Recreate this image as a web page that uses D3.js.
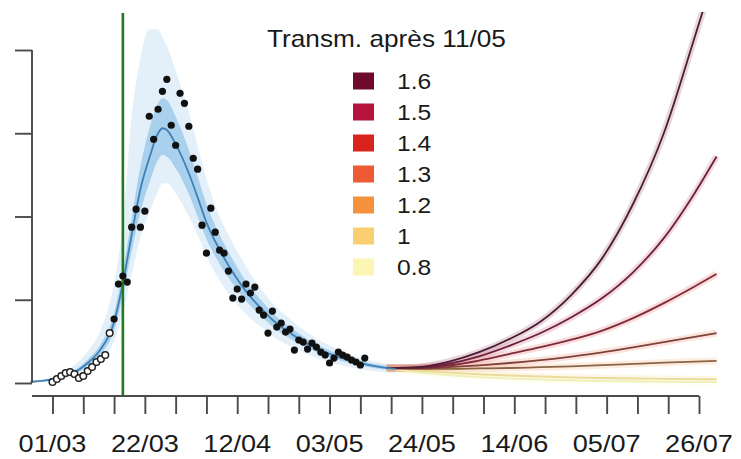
<!DOCTYPE html>
<html>
<head>
<meta charset="utf-8">
<script src="https://cdn.jsdelivr.net/npm/d3@7"></script>
<style>
  body { margin: 0; background: #fff; }
  svg { display: block; font-family: "Liberation Sans", Arial, sans-serif; }
</style>
</head>
<body>
<div id="chart"></div>
<script>
// all days are counted from 01/03/2020 (day 0)

// early points (open circles, not used for the fit)
var hollowStart = 0;
var hollowVals = [12, 48, 84, 120, 132, 108, 60, 84, 144, 192, 252, 288, 336, 600];

// daily admissions used for the fit (filled dots), 15/03 -> 11/05
var filledStart = 14;
var filledVals = [768, 1188, 1284, 1212, 1872, 2088, 1872, 2064, 3204, 2928, 3288, 3504,
  3648, 3096, 2856, 3480, 3360, 3084, 2700, 2568, 1896, 1560, 2100, 1812, 1596, 1560,
  1344, 1020, 1128, 1008, 1188, 1080, 1152, 876, 816, 600, 864, 672, 720, 612, 648,
  396, 516, 492, 408, 480, 432, 372, 336, 240, 300, 372, 336, 312, 276, 252, 216, 300];

// model fit + bands
var fitDays  = [-5, -2, 0, 3, 6, 8, 11, 14, 16, 18, 20, 22, 24, 25, 26, 28, 31, 33, 35, 38, 41, 44, 47, 50, 54, 58, 63, 68, 73, 78];
var fitMid   = [14, 28, 45, 90, 160, 240, 410, 730, 1200, 1780, 2330, 2700, 3000, 3060, 3040, 2870, 2520, 2230, 1930, 1600, 1330, 1100, 920, 760, 600, 470, 350, 265, 205, 170];
var fitInLo  = [10, 22, 38, 75, 135, 205, 350, 630, 1060, 1580, 2060, 2400, 2680, 2740, 2720, 2580, 2270, 2000, 1730, 1430, 1190, 985, 825, 680, 535, 420, 310, 235, 180, 150];
var fitInHi  = [18, 34, 54, 105, 190, 280, 470, 840, 1350, 1980, 2600, 3050, 3360, 3420, 3400, 3200, 2800, 2480, 2150, 1780, 1480, 1220, 1020, 845, 670, 525, 390, 297, 232, 192];
var fitOutLo = [6, 14, 26, 55, 100, 150, 270, 500, 850, 1300, 1750, 2050, 2300, 2400, 2400, 2280, 2000, 1780, 1530, 1230, 1010, 830, 690, 565, 440, 345, 250, 185, 140, 120];
var fitOutHi = [24, 46, 74, 145, 260, 380, 640, 1200, 1900, 3200, 3900, 4250, 4250, 4150, 4050, 3750, 3250, 2850, 2450, 2000, 1680, 1400, 1160, 960, 770, 605, 450, 340, 265, 215];

// projections by transmission rate after 11/05
var projDays = [76, 83, 90, 97, 104, 111, 118, 125, 132, 139, 146, 151];
var proj16 = [180, 190, 255, 370, 530, 740, 1060, 1500, 2150, 3000, 4150, 5000];
var proj15 = [180, 185, 230, 320, 450, 600, 790, 1020, 1330, 1740, 2280, 2720];
var proj14 = [180, 180, 210, 270, 350, 430, 520, 630, 780, 960, 1160, 1310];
var proj13 = [180, 175, 190, 212, 240, 275, 318, 368, 428, 490, 555, 600];
var proj12 = [180, 170, 170, 175, 180, 190, 200, 214, 229, 244, 257, 265];
var proj10 = [180, 150, 125, 105, 90, 78, 68, 60, 54, 50, 46, 45];
var proj08 = [180, 130, 95, 70, 52, 40, 30, 23, 18, 14, 11, 10];
var rLabels = ["1.6", "1.5", "1.4", "1.3", "1.2", "1", "0.8"];

var xLabels = ["01/03", "22/03", "12/04", "03/05", "24/05", "14/06", "05/07", "26/07"];
var yTicks = [0, 1000, 2000, 3000, 4000];
var lockdownDay = 16;

// styles
var legendCols = ["#6e0b2c", "#b5123c", "#d9241e", "#ee5a33", "#f5923e", "#f9cf72", "#fbf6b4"];
var lineCols   = ["#4c1d36", "#6c2040", "#7d2a3a", "#7e4238", "#8c6446", "#eadb98", "#eef0b8"];

var W = 741, H = 459;
var day0 = Date.UTC(2020, 2, 1);
var toDate = function(d) { return d3.utcDay.offset(new Date(day0), d); };

var x = d3.scaleUtc()
  .domain([toDate(0), toDate(147)])
  .range([52.5, 699]);
var y = d3.scaleLinear()
  .domain([0, 4000])
  .range([383, 50]);

var svg = d3.select("#chart").append("svg")
  .attr("width", W)
  .attr("height", H);

svg.append("clipPath").attr("id", "plotclip")
  .append("rect").attr("x", 30).attr("y", 12).attr("width", 700).attr("height", 385);

var plot = svg.append("g").attr("clip-path", "url(#plotclip)");

var fit = fitDays.map(function(d, i) {
  return { d: d, mid: fitMid[i], inLo: fitInLo[i], inHi: fitInHi[i], outLo: fitOutLo[i], outHi: fitOutHi[i] };
});

var band = function(lo, hi) {
  return d3.area()
    .curve(d3.curveMonotoneX)
    .x(function(p) { return x(toDate(p.d)); })
    .y0(function(p) { return y(p[lo]); })
    .y1(function(p) { return y(p[hi]); });
};

plot.append("path").datum(fit)
  .attr("d", band("outLo", "outHi"))
  .style("fill", "#e3eff9");
plot.append("path").datum(fit)
  .attr("d", band("inLo", "inHi"))
  .style("fill", "#a9d0ec");

// projections
var projs = [proj16, proj15, proj14, proj13, proj12, proj10, proj08];
var projLine = d3.line()
  .curve(d3.curveMonotoneX)
  .x(function(p) { return x(toDate(p[0])); })
  .y(function(p) { return y(p[1]); });

projs.forEach(function(vals, k) {
  var pts = projDays.map(function(d, i) { return [d, vals[i]]; });
  plot.append("path").datum(pts)
    .attr("d", projLine)
    .style("fill", "none")
    .style("stroke", legendCols[k])
    .style("stroke-opacity", 0.16)
    .style("stroke-width", 7);
});
projs.slice().reverse().forEach(function(vals, j) {
  var k = projs.length - 1 - j;
  var pts = projDays.map(function(d, i) { return [d, vals[i]]; });
  plot.append("path").datum(pts)
    .attr("d", projLine)
    .style("fill", "none")
    .style("stroke", lineCols[k])
    .style("stroke-width", 1.8);
});

// fitted line
plot.append("path").datum(fit)
  .attr("d", d3.line()
    .curve(d3.curveMonotoneX)
    .x(function(p) { return x(toDate(p.d)); })
    .y(function(p) { return y(p.mid); }))
  .style("fill", "none")
  .style("stroke", "#3f80b6")
  .style("stroke-width", 1.8);

// lockdown line
svg.append("line")
  .attr("x1", x(toDate(lockdownDay))).attr("x2", x(toDate(lockdownDay)))
  .attr("y1", 13).attr("y2", 397)
  .style("stroke", "#1f7a22")
  .style("stroke-width", 2.6);

// observed points
svg.selectAll("circle.hollow")
  .data(hollowVals)
  .enter().append("circle")
  .attr("class", "hollow")
  .attr("cx", function(v, i) { return x(toDate(hollowStart + i)); })
  .attr("cy", function(v) { return y(v); })
  .attr("r", 3.3)
  .style("fill", "#fff")
  .style("stroke", "#222")
  .style("stroke-width", 1.5);

svg.selectAll("circle.filled")
  .data(filledVals)
  .enter().append("circle")
  .attr("class", "filled")
  .attr("cx", function(v, i) { return x(toDate(filledStart + i)); })
  .attr("cy", function(v) { return y(v); })
  .attr("r", 3.6)
  .style("fill", "#111");

// y axis (labels are cut off in the source)
var yAxis = svg.append("g")
  .attr("transform", "translate(32,0)")
  .call(d3.axisLeft(y).tickValues(yTicks).tickSize(17).tickFormat(""));
yAxis.select(".domain").attr("d", "M0," + y(4000) + "V" + y(0));

// x axis
var weekDays = d3.range(0, 148, 7);
var xAxis = svg.append("g")
  .attr("transform", "translate(0,396)")
  .call(d3.axisBottom(x).tickValues(weekDays.map(toDate)).tickSize(18).tickFormat(""));
xAxis.select(".domain").attr("d", "M32,0H" + x(toDate(147)));

svg.selectAll(".domain, .tick line")
  .style("stroke", "#4a4a4a")
  .style("stroke-width", 1.9);

svg.append("g").selectAll("text")
  .data(xLabels)
  .enter().append("text")
  .attr("transform", function(t, i) { return "translate(" + x(toDate(i * 21)) + ",452) scale(1.13,1)"; })
  .attr("text-anchor", "middle")
  .style("font-size", "24px")
  .style("fill", "#1a1a1a")
  .text(function(t) { return t; });

// legend
var legend = svg.append("g");
legend.append("text")
  .attr("transform", "translate(267,47) scale(1.14,1)")
  .style("font-size", "23px")
  .style("fill", "#1a1a1a")
  .text("Transm. après 11/05");

var rows = legend.selectAll("g.row")
  .data(rLabels)
  .enter().append("g")
  .attr("class", "row")
  .attr("transform", function(r, i) { return "translate(0," + (81 + i * 31) + ")"; });
rows.append("rect")
  .attr("x", 353).attr("y", -8.5)
  .attr("width", 21).attr("height", 17)
  .style("fill", function(r, i) { return legendCols[i]; });
rows.append("text")
  .attr("transform", "translate(397,8) scale(1.12,1)")
  .style("font-size", "22px")
  .style("fill", "#1a1a1a")
  .text(function(r) { return r; });
</script>
</body>
</html>
